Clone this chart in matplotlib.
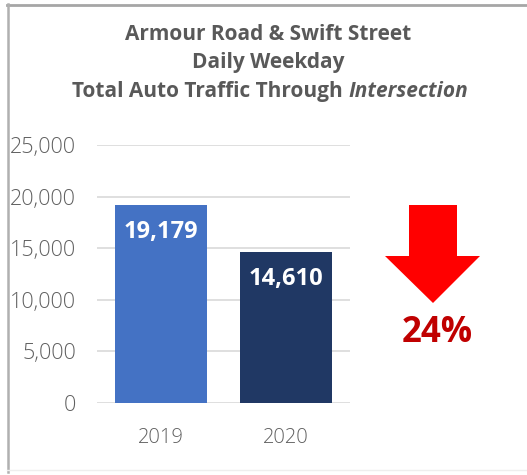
import matplotlib.pyplot as plt
from matplotlib.lines import Line2D
from matplotlib.patches import Polygon
from matplotlib.ticker import FuncFormatter

plt.rcParams['font.family'] = ['Open Sans', 'DejaVu Sans']

years = ['2019', '2020']
traffic = [19179, 14610]
bar_colors = ['#4472C4', '#203864']
yticks = [0, 5000, 10000, 15000, 20000, 25000]

W, H = 527, 475
fig = plt.figure(figsize=(W / 100, H / 100), dpi=100)

# 像素坐标 -> 图坐标
def fx(px):
    return px / W

def fy(py):
    return 1 - py / H

ax = fig.add_axes([fx(97), fy(403), fx(350) - fx(97), fy(145) - fy(403)])
ax.bar(range(len(years)), traffic, width=0.73, color=bar_colors, zorder=3)
ax.set_xlim(-0.51, 1.51)
ax.set_ylim(0, 25000)
ax.set_yticks(yticks)
ax.yaxis.set_major_formatter(FuncFormatter(lambda v, p: f'{int(v):,}'))
ax.set_xticks(range(len(years)))
ax.set_xticklabels(years)
ax.grid(axis='y', color='#d9d9d9', linewidth=1.2, zorder=0)
for s in ax.spines.values():
    s.set_visible(False)
ax.tick_params(axis='y', length=0, pad=15, labelsize=15.5, labelcolor='#606060')
ax.tick_params(axis='x', length=0, pad=18, labelsize=14.5, labelcolor='#606060')
for lab in ax.get_yticklabels() + ax.get_xticklabels():
    lab.set_fontweight('light')

# 柱内数值
for i, v in enumerate(traffic):
    ax.text(i, v - 2600, f'{v:,}', ha='center', va='center', color='white',
            fontsize=17, fontweight='bold', zorder=4)

# 标题
tc = '#595959'
fs = 15
fig.text(fx(268), fy(40), 'Armour Road & Swift Street', ha='center', va='baseline',
         fontsize=fs, fontweight='bold', color=tc)
fig.text(fx(268), fy(68), 'Daily Weekday', ha='center', va='baseline',
         fontsize=fs, fontweight='bold', color=tc)
t1 = fig.text(0, fy(97), 'Total Auto Traffic Through ', ha='left', va='baseline',
              fontsize=fs, fontweight='bold', color=tc)
t2 = fig.text(0, fy(97), 'Intersection', ha='left', va='baseline',
              fontsize=fs, fontweight='bold', style='italic', color=tc)
r = fig.canvas.get_renderer()
w1 = t1.get_window_extent(r).width
w2 = t2.get_window_extent(r).width
x0 = 270 - (w1 + w2) / 2
t1.set_x(fx(x0))
t2.set_x(fx(x0 + w1))

# 下降箭头
arrow = [(409, 205), (457, 205), (457, 256), (480, 256), (433, 303),
         (385, 256), (409, 256)]
fig.patches.append(Polygon([(fx(x), fy(y)) for x, y in arrow], closed=True,
                           transform=fig.transFigure, facecolor='#FF0000',
                           edgecolor='none'))
drop = (traffic[0] - traffic[1]) / traffic[0] * 100
fig.text(fx(437), fy(333), f'{drop:.0f}%', ha='center', va='center',
         fontsize=25, fontweight='bold', color='#C00000')

# 外框
fig.add_artist(Line2D([fx(7), 1], [fy(4.5), fy(4.5)], color='#a6a6a6', linewidth=2))
fig.add_artist(Line2D([fx(7.5), fx(7.5)], [fy(4), fy(472)], color='#b0b0b0', linewidth=1.8))
fig.add_artist(Line2D([fx(7), 1], [fy(470), fy(470)], color='#eeeeee', linewidth=1))

fig.savefig('out.png', dpi=100)
